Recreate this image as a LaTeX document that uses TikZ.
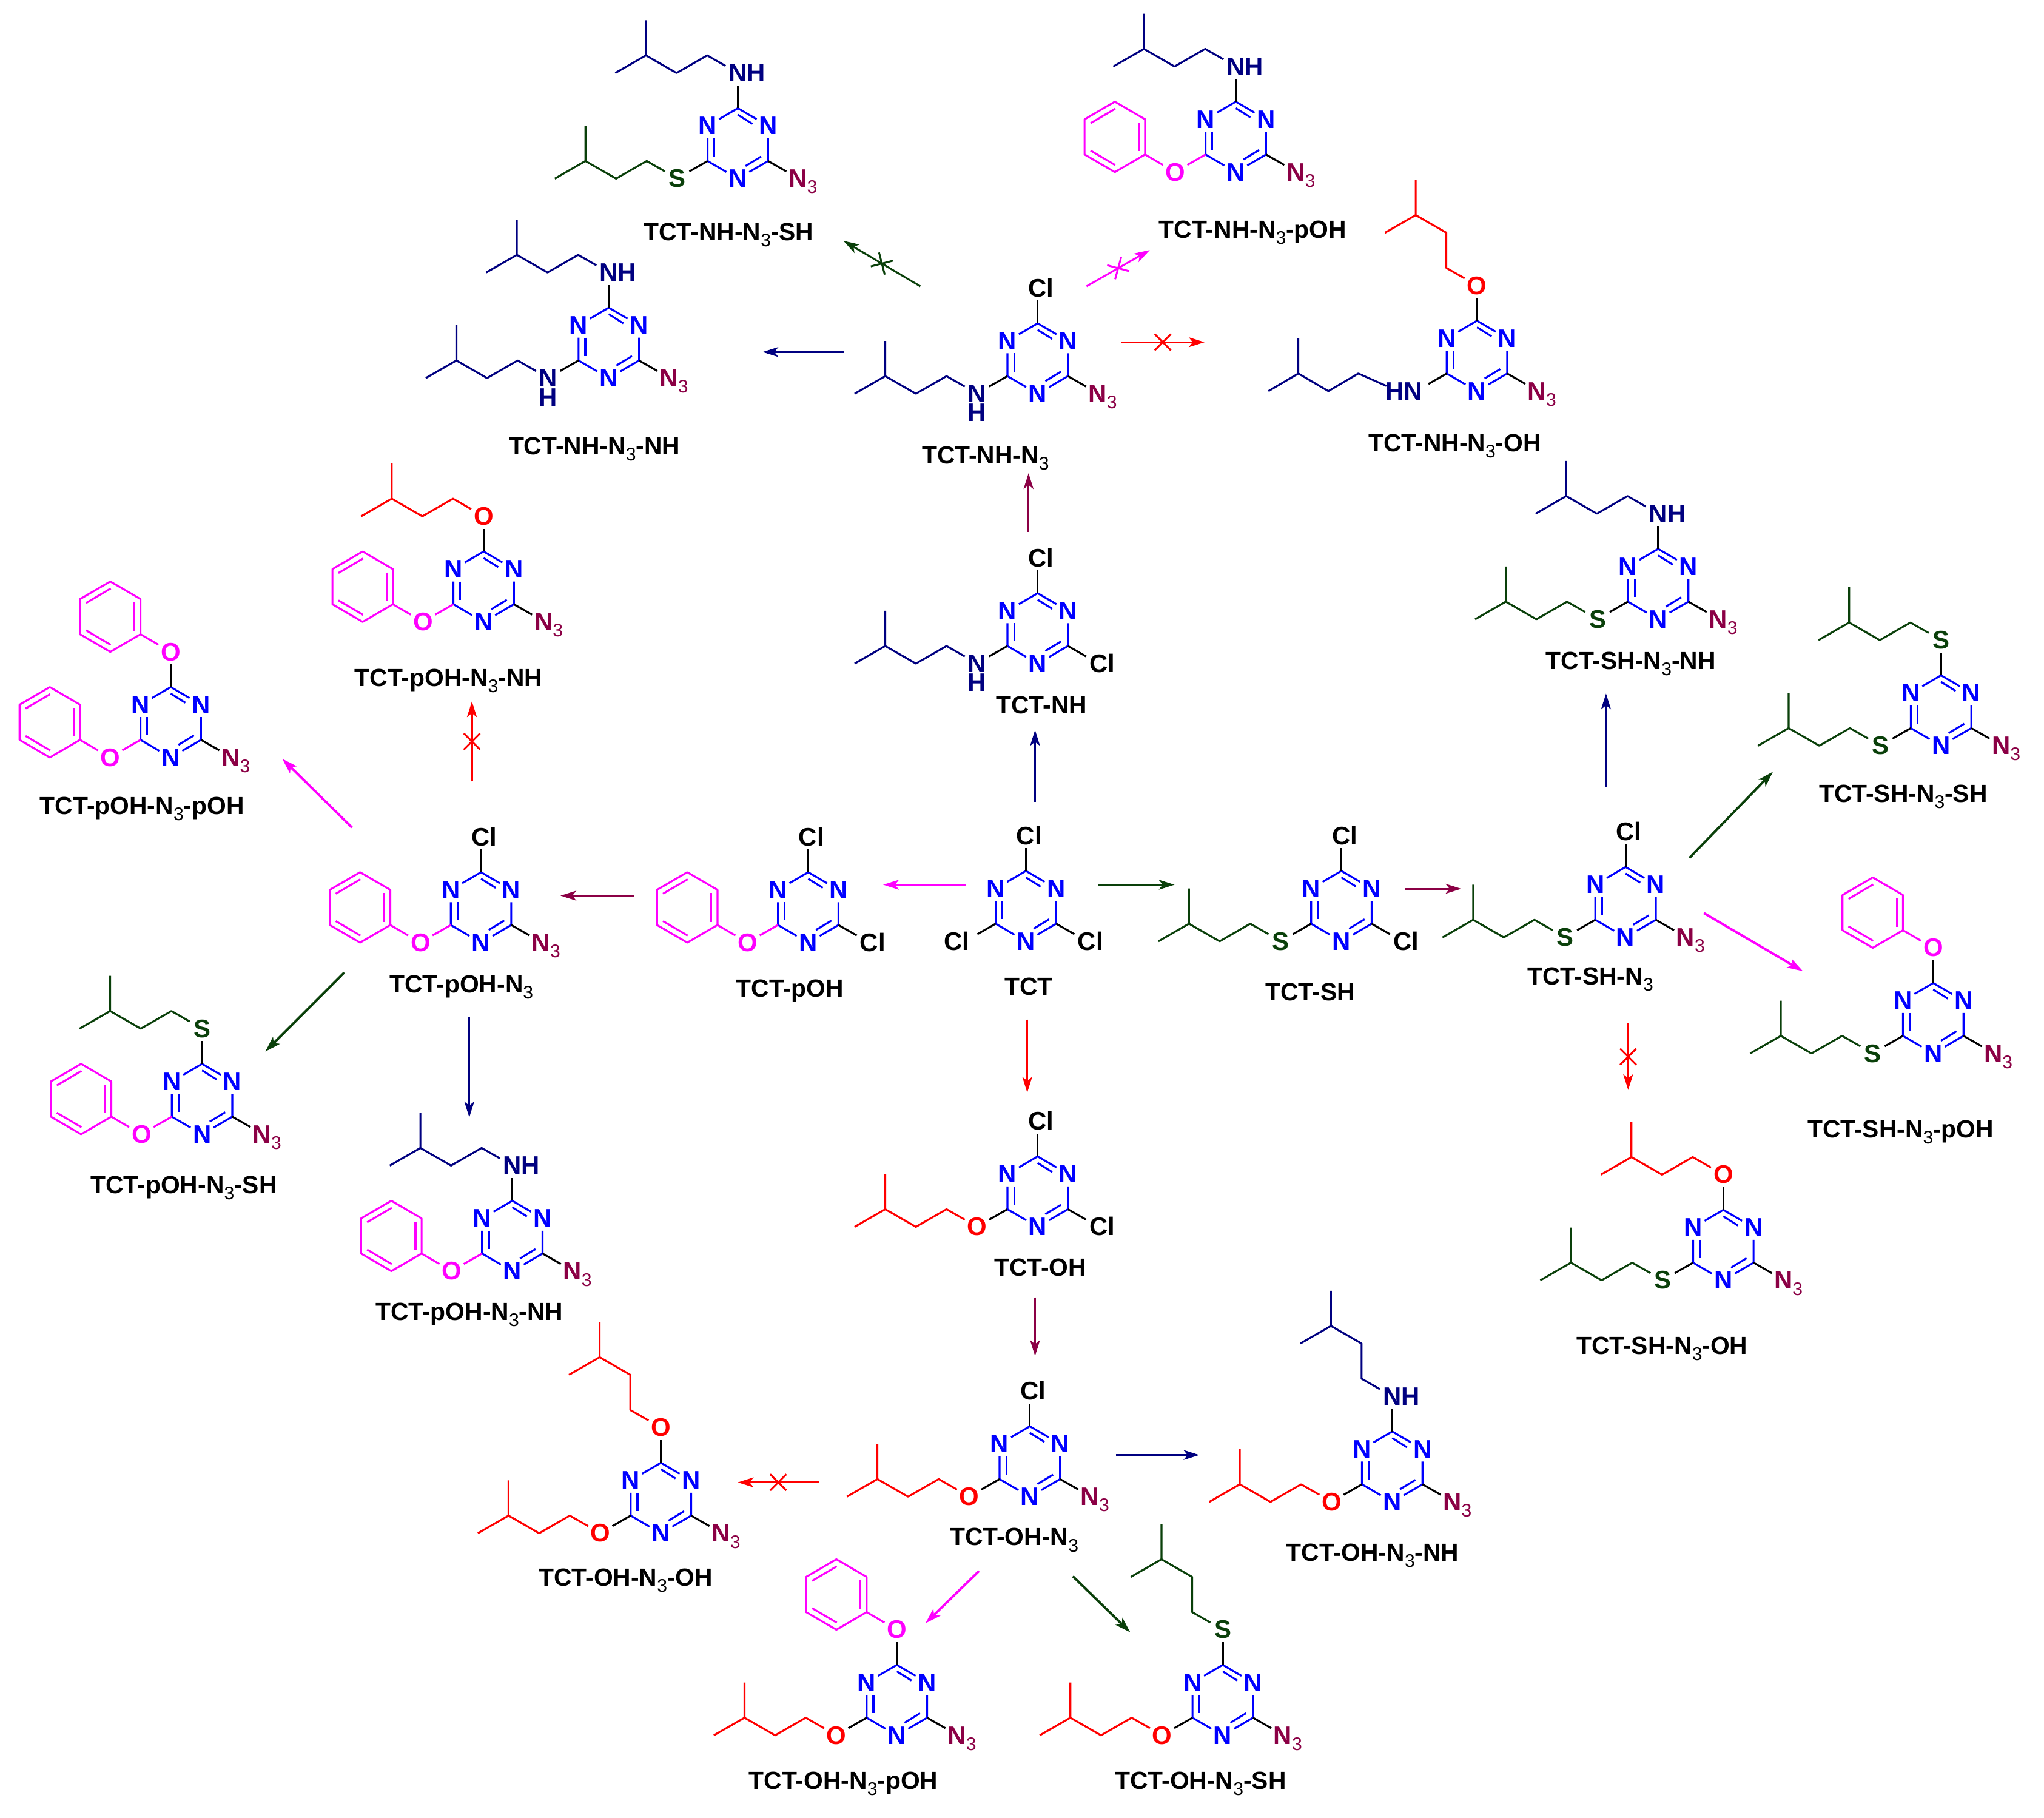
\documentclass[tikz,border=0pt]{standalone}
\usepackage{fontspec}
\setmainfont{Liberation Sans}
\usetikzlibrary{arrows.meta,shapes.misc}
\definecolor{cnavy}{HTML}{000080}
\definecolor{cgreen}{HTML}{0A400A}
\definecolor{ccrim}{HTML}{8B0045}
\definecolor{cmag}{HTML}{FF00FF}
\definecolor{cblue}{HTML}{0000FF}
\definecolor{cred}{HTML}{FF0000}
\tikzset{
  bond/.style={line width=1.45pt,line join=round},
  rxn/.style={line width=1.4pt,-{Stealth[length=12pt,width=7.5pt,inset=3pt]}},
  thickrxn/.style={line width=1.8pt},
  crossmark/.style={cross out,draw,line width=1.4pt,minimum size=11pt,inner sep=0pt,sloped},
  atomt/.style={inner sep=0pt,outer sep=0pt,font=\fontsize{19.5}{21}\selectfont\bfseries},
  capt/.style={inner sep=0pt,outer sep=0pt,anchor=base,font=\fontsize{19}{21}\selectfont\bfseries,text=black}
}
\newcount\atomc
\newcommand\subthree{\raisebox{-4.7pt}{\fontsize{14}{14}\selectfont\mdseries 3}}
% atom label: #1 colour, #2 x, #3 y of letter centre, #4 text (centred)
\newcommand\Lab[4]{\global\advance\atomc by 1
  \node[atomt,text=#1,anchor=base,name=at\the\atomc] at (#2,#3-6.7) {#4};}
% left-edge label, first letter centred on x
\newcommand\LabW[4]{\global\advance\atomc by 1
  \node[atomt,text=#1,anchor=base west,name=at\the\atomc] at (#2-7,#3-6.7) {#4};}
\newcommand\mol[3]{\begin{scope}[shift={(#1,-#2)}]#3\end{scope}}
% triazine ring
\newcommand\Tz{%
  \draw[bond,cblue] (-14.4,18.6)--(0,27)--(14.4,18.6);
  \draw[bond,cblue] (0,22)--(11.2,15);
  \draw[bond,cblue] (-23.2,4)--(-23.2,-13.5)--(-8.8,-21.9);
  \draw[bond,cblue] (-18,4)--(-18,-10);
  \draw[bond,cblue] (23.2,4)--(23.2,-13.5)--(8.8,-21.9);
  \draw[bond,cblue] (17.8,-10.1)--(5.9,-17.3);
  \Lab{cblue}{-23.2}{13.5}{N}\Lab{cblue}{23.2}{13.5}{N}\Lab{cblue}{0}{-27}{N}}
% azide
\newcommand\Nt{%
  \draw[bond,black] (23.2,-13.5)--(37.2,-21.5);
  \LabW{ccrim}{46}{-27}{N\subthree}}
\newcommand\ClT{\draw[bond,black] (0,27)--(0,44.5);\Lab{black}{2.5}{54}{Cl}}
\newcommand\ClR{\draw[bond,black] (23.2,-13.5)--(37.2,-21.5);\Lab{black}{49.5}{-27}{Cl}}
\newcommand\ClL{\draw[bond,black] (-23.2,-13.5)--(-37.2,-21.5);\Lab{black}{-53}{-27}{Cl}}
% alkyl chains, origin on the heteroatom
\newcommand\ChH[1]{\draw[bond,#1] (-9.5,5.5)--(-23.5,13.5)--(-47,0)--(-70.5,13.5)--(-70.5,40.5);
  \draw[bond,#1] (-70.5,13.5)--(-94,0);}
\newcommand\ChV[1]{\draw[bond,#1] (-9.5,5.5)--(-23.5,13.5)--(-23.5,40.5)--(-47,54)--(-47,81);
  \draw[bond,#1] (-47,54)--(-70.5,40.5);}
\newcommand\Ph{%
  \draw[bond,cmag] (-9.5,5.5)--(-23.2,13.5);
  \begin{scope}[shift={(-46.4,27)}]
  \draw[bond,cmag] (0,27)--(23.2,13.5)--(23.2,-13.5)--(0,-27)--(-23.2,-13.5)--(-23.2,13.5)--cycle;
  \draw[bond,cmag] (18.5,11)--(18.5,-11);
  \draw[bond,cmag] (-18.6,10.5)--(0.3,21.6);
  \draw[bond,cmag] (-18.6,-10.5)--(0.3,-21.6);
  \end{scope}}
% top substituents
\newcommand\TopB{\draw[bond,black] (0,27)--(0,44.5);}
\newcommand\TopNH[1]{\TopB\LabW{cnavy}{0}{54}{NH}\begin{scope}[shift={(0,54)}]\ChH{cnavy}#1\end{scope}}
\newcommand\TopNHv{\TopB\LabW{cnavy}{0}{54}{NH}\begin{scope}[shift={(0,54)}]\ChV{cnavy}\end{scope}}
\newcommand\TopO{\TopB\Lab{cred}{0}{54}{O}\begin{scope}[shift={(0,54)}]\ChH{cred}\end{scope}}
\newcommand\TopOv{\TopB\Lab{cred}{0}{54}{O}\begin{scope}[shift={(0,54)}]\ChV{cred}\end{scope}}
\newcommand\TopS{\TopB\Lab{cgreen}{0}{54}{S}\begin{scope}[shift={(0,54)}]\ChH{cgreen}\end{scope}}
\newcommand\TopSv{\TopB\Lab{cgreen}{0}{54}{S}\begin{scope}[shift={(0,54)}]\ChV{cgreen}\end{scope}}
\newcommand\TopP{\TopB\Lab{cmag}{0}{54}{O}\begin{scope}[shift={(0,54)}]\Ph\end{scope}}
% left substituents
\newcommand\LefB{\draw[bond,black] (-23.2,-13.5)--(-37.2,-21.5);}
\newcommand\StackNH{\vtop{\baselineskip=14.6pt\lineskiplimit=-20pt\hbox{N}\hbox{H}}}
\newcommand\LefNH{\LefB\Lab{cnavy}{-46.4}{-27}{\StackNH}\begin{scope}[shift={(-46.4,-27)}]\ChH{cnavy}\end{scope}}
\newcommand\LefO{\LefB\Lab{cred}{-46.4}{-27}{O}\begin{scope}[shift={(-46.4,-27)}]\ChH{cred}\end{scope}}
\newcommand\LefS{\LefB\Lab{cgreen}{-46.4}{-27}{S}\begin{scope}[shift={(-46.4,-27)}]\ChH{cgreen}\end{scope}}
\newcommand\LefP{\draw[bond,cmag] (-23.2,-13.5)--(-37.2,-21.5);\Lab{cmag}{-46.4}{-27}{O}\begin{scope}[shift={(-46.4,-27)}]\Ph\end{scope}}
\newcommand\LefHN{\LefB
  \LabW{cnavy}{-63}{-27}{HN}
  \draw[bond,cnavy] (-69.5,-23)--(-91,-13.5)--(-114,-27)--(-137,-13.5)--(-137,13.5);
  \draw[bond,cnavy] (-137,-13.5)--(-160,-27);}
% captions and reactions
\newcommand\Cap[3]{\global\advance\atomc by 1
  \node[capt,name=cp\the\atomc] at (#1,-#2-6.5) {#3};}
\newcommand\Rx[7][]{\coordinate (#3s) at (#4,-#5);\coordinate (#3e) at (#6,-#7);
  \draw[rxn,#2,#1] (#3s)--(#3e);}
\newcommand\Rxx[7]{\coordinate (#2s) at (#3,-#4);\coordinate (#2e) at (#5,-#6);
  \draw[rxn,#1] (#2s)-- node[crossmark,draw=#1,pos=#7,name=#2x] {} (#2e);}
\newcommand\Nn{N\subthree}
\begin{document}
\begin{tikzpicture}[x=1pt,y=1pt]
\useasboundingbox (0,-1394) rectangle (1568,0);
\fill[white] (0,-1394) rectangle (1568,0);
% molecules
\mol{566}{110}{\Tz\Nt\TopNH{}\LefS}
\Cap{559}{178}{TCT-NH-\Nn-SH}
\mol{948}{105}{\Tz\Nt\TopNH{}\LefP}
\Cap{961}{176}{TCT-NH-\Nn-pOH}
\mol{467}{263}{\Tz\Nt\TopNH{}\LefNH}
\Cap{456}{342}{TCT-NH-\Nn-NH}
\mol{796}{275}{\Tz\Nt\ClT\LefNH}
\Cap{756}{349}{TCT-NH-\Nn}
\mol{1133}{273}{\Tz\Nt\TopOv\LefHN}
\Cap{1116}{340}{TCT-NH-\Nn-OH}
\mol{371}{450}{\Tz\Nt\TopO\LefP}
\Cap{344}{520}{TCT-pOH-\Nn-NH}
\mol{131}{554}{\Tz\Nt\TopP\LefP}
\Cap{109}{618}{TCT-pOH-\Nn-pOH}
\mol{1272}{448}{\Tz\Nt\TopNH{}\LefS}
\Cap{1251}{507}{TCT-SH-\Nn-NH}
\mol{796}{482}{\Tz\ClR\ClT\LefNH}
\Cap{799}{541}{TCT-NH}
\mol{1489}{545}{\Tz\Nt\TopS\LefS}
\Cap{1460}{609}{TCT-SH-\Nn-SH}
\mol{787}{695}{\Tz\ClT\ClR\ClL}
\Cap{789}{757}{TCT}
\mol{620}{696}{\Tz\ClT\ClR\LefP}
\Cap{606}{758}{TCT-pOH}
\mol{369}{696}{\Tz\Nt\ClT\LefP}
\Cap{354}{755}{TCT-pOH-\Nn}
\mol{1029}{695}{\Tz\ClT\ClR\LefS}
\Cap{1005}{761}{TCT-SH}
\mol{1247}{692}{\Tz\Nt\ClT\LefS}
\Cap{1220}{749}{TCT-SH-\Nn}
\mol{1483}{781}{\Tz\Nt\TopP\LefS}
\Cap{1458}{866}{TCT-SH-\Nn-pOH}
\mol{155}{843}{\Tz\Nt\TopS\LefP}
\Cap{141}{909}{TCT-pOH-\Nn-SH}
\mol{393}{948}{\Tz\Nt\TopNH{}\LefP}
\Cap{360}{1006}{TCT-pOH-\Nn-NH}
\mol{796}{914}{\Tz\ClT\ClR\LefO}
\Cap{798}{972}{TCT-OH}
\mol{1322}{955}{\Tz\Nt\TopO\LefS}
\Cap{1275}{1032}{TCT-SH-\Nn-OH}
\mol{790}{1121}{\Tz\Nt\ClT\LefO}
\Cap{778}{1179}{TCT-OH-\Nn}
\mol{1068}{1125}{\Tz\Nt\TopNHv\LefO}
\Cap{1053}{1191}{TCT-OH-\Nn-NH}
\mol{507}{1149}{\Tz\Nt\TopOv\LefO}
\Cap{480}{1210}{TCT-OH-\Nn-OH}
\mol{688}{1304}{\Tz\Nt\TopP\LefO}
\Cap{647}{1366}{TCT-OH-\Nn-pOH}
\mol{938}{1304}{\Tz\Nt\TopSv\LefO}
\Cap{921}{1366}{TCT-OH-\Nn-SH}
% reactions
\Rx{cnavy}{ra}{794}{615}{794}{560}
\Rx{cmag}{rb}{741}{678.6}{677.5}{678.6}
\Rx{cgreen}{rc}{842}{678.6}{901}{678.6}
\Rx{cred}{rd}{788}{782}{788}{838}
\Rx{ccrim}{re}{789}{408}{789}{363}
\Rx{cnavy}{rf}{647}{270}{585}{270}
\Rxx{cgreen}{rg}{706}{219.6}{647}{184.7}{0.5}
\Rxx{cmag}{rh}{833.5}{219.6}{882}{191.8}{0.5}
\Rxx{cred}{ri}{860}{262.5}{924}{262.5}{0.5}
\Rxx{cred}{rj}{362}{599.5}{362}{538}{0.5}
\Rx[thickrxn]{cmag}{rk}{270}{634.7}{216.5}{582}
\Rx{ccrim}{rl}{486}{687}{430}{687}
\Rx[thickrxn]{cgreen}{rm}{264}{746}{203.6}{806.5}
\Rx{cnavy}{rn}{360}{780}{360}{857}
\Rx{ccrim}{ro}{794}{995}{794}{1040}
\Rx{cnavy}{rp}{856}{1116}{920}{1116}
\Rxx{cred}{rq}{628}{1137}{566}{1137}{0.5}
\Rx[thickrxn]{cmag}{rr}{751}{1205}{710}{1245}
\Rx[thickrxn]{cgreen}{rs}{823}{1209}{867}{1252}
\Rx{ccrim}{rt}{1077.6}{681.7}{1121}{681.7}
\Rx{cnavy}{ru}{1232}{604}{1232}{532}
\Rx[thickrxn]{cgreen}{rv}{1296}{658}{1360}{592}
\Rx[thickrxn]{cmag}{rw}{1307}{700.3}{1383}{744.9}
\Rxx{cred}{rx}{1249}{785}{1249}{836}{0.5}
\end{tikzpicture}
\end{document}
